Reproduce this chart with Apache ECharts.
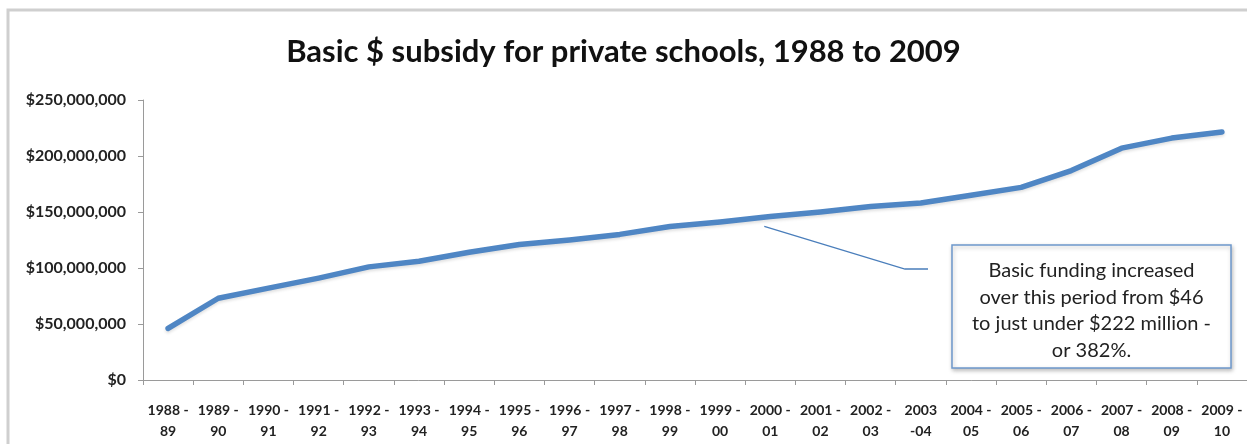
<!DOCTYPE html>
<html>
<head>
<meta charset="utf-8">
<script src="https://cdn.jsdelivr.net/npm/echarts@6/dist/echarts.min.js"></script>
<style>
  html, body { margin: 0; padding: 0; background: #fff; }
  #main { width: 1247px; height: 444px; }
</style>
</head>
<body>
<div id="main"></div>
<script>
// school years on the x axis
var categories = [
  '1988 -\n89', '1989 -\n90', '1990 -\n91', '1991 -\n92', '1992 -\n93', '1993 -\n94',
  '1994 -\n95', '1995 -\n96', '1996 -\n97', '1997 -\n98', '1998 -\n99', '1999 -\n00',
  '2000 -\n01', '2001 -\n02', '2002 -\n03', '2003\n-04', '2004 -\n05', '2005 -\n06',
  '2006 -\n07', '2007 -\n08', '2008 -\n09', '2009 -\n10'
];
// basic subsidy, $
var subsidy = [
  46000000, 73000000, 82000000, 91000000, 101000000, 106000000,
  114000000, 121000000, 125000000, 130000000, 137000000, 141000000,
  146000000, 150000000, 155000000, 158000000, 165000000, 172000000,
  187000000, 207000000, 216000000, 221500000
];
var yMin = 0;
var yMax = 250000000;
var yStep = 50000000;

var titleText = 'Basic $ subsidy for private schools, 1988 to 2009';
var noteLines = [
  'Basic funding increased',
  'over this period from $46',
  'to just under $222 million -',
  'or 382%.'
];
var noteAnchorIndex = 12; // the callout points at 2000-01

var blue = '#4f86c4';
var axisGrey = '#9a9a9a';

var chart = echarts.init(document.getElementById('main'));

function money(v) {
  return '$' + v.toLocaleString('en-US');
}

var option = {
  animation: false,
  title: {
    text: titleText,
    left: 'center',
    top: 31,
    textStyle: {
      fontFamily: 'Lato',
      fontWeight: 'bold',
      fontSize: 31,
      color: '#111'
    }
  },
  grid: {
    left: 143,
    right: 0,
    top: 100,
    bottom: 64,
    containLabel: false
  },
  xAxis: {
    type: 'category',
    data: categories,
    boundaryGap: true,
    axisLine: { lineStyle: { color: axisGrey, width: 1 } },
    axisTick: { show: true, length: 5, lineStyle: { color: axisGrey } },
    axisLabel: {
      interval: 0,
      margin: 20,
      fontFamily: 'Lato',
      fontWeight: 'bold',
      fontSize: 14,
      lineHeight: 21,
      color: '#222'
    },
    splitLine: { show: false }
  },
  yAxis: {
    type: 'value',
    min: yMin,
    max: yMax,
    interval: yStep,
    axisLine: { show: true, lineStyle: { color: axisGrey, width: 1 } },
    axisTick: { show: true, length: 5, lineStyle: { color: axisGrey } },
    axisLabel: {
      margin: 17,
      formatter: money,
      fontFamily: 'Lato',
      fontWeight: 'bold',
      fontSize: 16,
      color: '#222'
    },
    splitLine: { show: false }
  },
  series: [{
    name: 'Basic subsidy',
    type: 'line',
    data: subsidy,
    showSymbol: false,
    symbol: 'none',
    lineStyle: {
      color: blue,
      width: 5.5,
      cap: 'round',
      join: 'round',
      shadowColor: 'rgba(0,0,0,0.12)',
      shadowBlur: 3,
      shadowOffsetY: 2
    }
  }]
};

chart.setOption(option);

// callout: leader line starts just under the 2000-01 point
var anchor = chart.convertToPixel({ seriesIndex: 0 }, [noteAnchorIndex, subsidy[noteAnchorIndex]]);
var box = { x: 952, y: 245, w: 279, h: 123 };

chart.setOption({
  graphic: [
    {
      type: 'polyline',
      silent: true,
      shape: {
        points: [
          [anchor[0] - 6, anchor[1] + 10],
          [905, 269],
          [928, 269]
        ]
      },
      style: { stroke: '#4a7ebb', lineWidth: 1.3, fill: null }
    },
    {
      type: 'rect',
      silent: true,
      shape: { x: box.x, y: box.y, width: box.w, height: box.h },
      style: {
        fill: '#fff',
        stroke: '#6d98cc',
        lineWidth: 1.5,
        shadowColor: 'rgba(0,0,0,0.25)',
        shadowBlur: 4,
        shadowOffsetX: 1,
        shadowOffsetY: 2
      }
    },
    {
      type: 'text',
      silent: true,
      x: box.x + box.w / 2,
      y: box.y + box.h / 2 + 4,
      style: {
        text: noteLines.join('\n'),
        align: 'center',
        verticalAlign: 'middle',
        fontFamily: 'Lato',
        fontSize: 20,
        lineHeight: 26.5,
        fill: '#222'
      }
    },
    // outer frame of the chart area (cut off at right and bottom)
    {
      type: 'polyline',
      silent: true,
      shape: { points: [[8, 444], [8, 10], [1247, 10]] },
      style: { stroke: '#cfcfcf', lineWidth: 3, fill: null }
    }
  ]
});
</script>
</body>
</html>
